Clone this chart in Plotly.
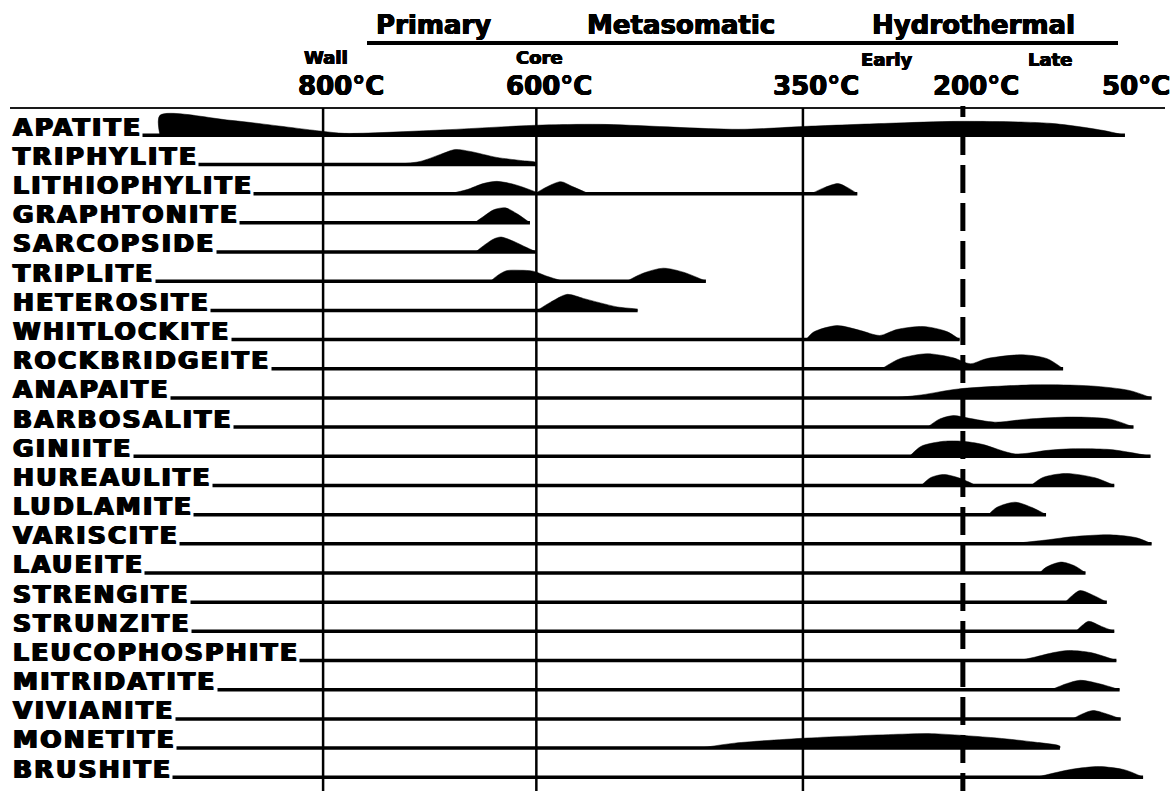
import plotly.graph_objects as go

# ---------------------------------------------------------------------------
# Paragenetic sequence of pegmatite phosphates
# ---------------------------------------------------------------------------
minerals = [
    "APATITE", "TRIPHYLITE", "LITHIOPHYLITE", "GRAPHTONITE", "SARCOPSIDE",
    "TRIPLITE", "HETEROSITE", "WHITLOCKITE", "ROCKBRIDGEITE", "ANAPAITE",
    "BARBOSALITE", "GINIITE", "HUREAULITE", "LUDLAMITE", "VARISCITE",
    "LAUEITE", "STRENGITE", "STRUNZITE", "LEUCOPHOSPHITE", "MITRIDATITE",
    "VIVIANITE", "MONETITE", "BRUSHITE",
]

# Growth pulses of every mineral: (temperature in °C, relative abundance)
apatite = [([953, 953, 887, 801, 780, 690, 600, 540, 410, 346, 270, 203, 118, 69, 48],
            [0, 1.33, 1.0, 0.27, 0.13, 0.35, 0.67, 0.73, 0.4, 0.6, 0.8, 0.93, 0.8, 0.33, 0])]
triphylite = [([733, 709, 690, 676, 662, 637, 615, 600, 600],
               [0, 0.2, 0.67, 1.0, 0.87, 0.47, 0.27, 0.13, 0])]
lithiophylite = [([681, 665, 650, 637, 620, 600], [0, 0.27, 0.67, 0.82, 0.6, 0.1]),
                 ([599, 588, 577, 566, 551], [0.1, 0.53, 0.8, 0.47, 0]),
                 ([342, 330, 317, 308, 299], [0, 0.4, 0.67, 0.4, 0])]
graphtonite = [([658, 650, 640, 629, 618, 606], [0, 0.4, 0.87, 1.0, 0.6, 0])]
sarcopside = [([657, 648, 640, 633, 620, 610, 600], [0, 0.5, 0.87, 1.0, 0.67, 0.33, 0])]
triplite = [([643, 636, 628, 615, 603, 590, 575], [0, 0.4, 0.7, 0.73, 0.67, 0.33, 0]),
            ([515, 500, 481, 462, 441], [0, 0.53, 0.87, 0.6, 0])]
heterosite = [([599, 587, 571, 556, 540, 524, 506, 505],
               [0, 0.53, 1.07, 0.8, 0.5, 0.23, 0.07, 0])]
whitlockite = [([347, 340, 318, 296, 278, 262, 237, 215, 203],
                [0, 0.5, 0.93, 0.6, 0.27, 0.67, 0.87, 0.53, 0])]
rockbridgeite = [([276, 259, 234, 209, 193, 178, 144, 121, 106],
                  [0, 0.67, 1.0, 0.73, 0.33, 0.67, 0.93, 0.67, 0])]
anapaite = [([265, 239, 204, 133, 80, 44, 23], [0, 0.2, 0.6, 0.87, 0.8, 0.5, 0])]
barbosalite = [([233, 222, 209, 195, 170, 140, 98, 62, 40],
                [0, 0.53, 0.77, 0.6, 0.33, 0.53, 0.67, 0.53, 0])]
giniite = [([250, 239, 218, 200, 182, 151, 120, 98, 62, 37, 24],
            [0, 0.67, 1.0, 1.0, 0.8, 0.16, 0.4, 0.5, 0.45, 0.18, 0])]
hureaulite = [([239, 230, 218, 204, 190, 189], [0, 0.53, 0.73, 0.51, 0.07, 0]),
              ([136, 125, 104, 76, 58], [0, 0.53, 0.8, 0.51, 0])]
ludlamite = [([176, 168, 151, 135, 122], [0, 0.49, 0.83, 0.47, 0])]
variscite = [([155, 120, 98, 62, 37, 23], [0, 0.27, 0.47, 0.6, 0.4, 0])]
laueite = [([128, 122, 108, 95, 85], [0, 0.38, 0.73, 0.47, 0])]
strengite = [([104, 97, 90, 78, 65], [0, 0.47, 0.78, 0.47, 0])]
strunzite = [([94, 88, 82, 70, 58], [0, 0.4, 0.67, 0.33, 0])]
leucophosphite = [([147, 133, 115, 101, 80, 56], [0, 0.22, 0.53, 0.67, 0.53, 0])]
mitridatite = [([117, 103, 90, 72, 53], [0, 0.4, 0.63, 0.4, 0])]
vivianite = [([97, 88, 78, 65, 52], [0, 0.33, 0.56, 0.33, 0])]
monetite = [([446, 414, 346, 257, 229, 168, 133, 109, 109],
             [0, 0.33, 0.67, 0.93, 0.96, 0.67, 0.4, 0.13, 0])]
brushite = [([131, 98, 72, 48, 31], [0, 0.53, 0.71, 0.49, 0])]

pulses = [apatite, triphylite, lithiophylite, graphtonite, sarcopside, triplite,
          heterosite, whitlockite, rockbridgeite, anapaite, barbosalite, giniite,
          hureaulite, ludlamite, variscite, laueite, strengite, strunzite,
          leucophosphite, mitridatite, vivianite, monetite, brushite]

# Temperature scale
temps = [800, 600, 350, 200, 50]
temp_labels = ["800°C", "600°C", "350°C", "200°C", "50°C"]
zone_labels = {800: "Wall", 600: "Core"}
solid_temps = [800, 600, 350]
dashed_temp = 200

stages = ["Primary", "Metasomatic", "Hydrothermal"]
stage_centres = [696, 464, 190]
substages = ["Early", "Late"]
substage_centres = [272, 118]

# ---------------------------------------------------------------------------
# Layout geometry
# ---------------------------------------------------------------------------
W, H = 1174, 791
T_LEFT, T_RIGHT = 1103, 2
ROW0_PX, ROW_PITCH = 135.3, 29.18
Y_TOP = -ROW0_PX / ROW_PITCH
Y_BOT = (H - ROW0_PX) / ROW_PITCH
PEAK = 15 / ROW_PITCH            # row height of one abundance unit
LINE_START_T = 1090
FONT = "DejaVu Sans"


def heavy(d):
    """text-shadow that thickens the glyph strokes"""
    return f"{d}px 0 0 black, -{d}px 0 0 black, 0 0.4px 0 black, 0 -0.3px 0 black"


def py(px):
    """pixel row -> paper y"""
    return 1 - px / H


def font(size, d=0.6):
    return dict(family=FONT, size=size, color="black", weight="bold", shadow=heavy(d))


fig = go.Figure()

for i, (name, plist) in enumerate(zip(minerals, pulses)):
    end_t = min(min(t) for t, _ in plist)
    fig.add_trace(go.Scatter(
        x=[LINE_START_T, end_t], y=[i, i], mode="lines",
        line=dict(color="black", width=3.5), hoverinfo="skip"))
    for t, h in plist:
        fig.add_trace(go.Scatter(
            x=t, y=[i - v * PEAK for v in h], mode="lines",
            line=dict(color="black", width=0.5, shape="spline", smoothing=0.8),
            fill="toself", fillcolor="black", hoverinfo="skip"))

shapes = []
# top rule and stage underline
shapes.append(dict(type="line", xref="paper", yref="paper",
                   x0=10 / W, x1=1165 / W, y0=py(108), y1=py(108),
                   line=dict(color="#1a1a1a", width=2)))
shapes.append(dict(type="line", xref="paper", yref="paper",
                   x0=367 / W, x1=1118 / W, y0=py(43), y1=py(43),
                   line=dict(color="black", width=4)))
# temperature boundaries
for t in solid_temps:
    shapes.append(dict(type="line", xref="x", yref="paper", x0=t, x1=t,
                       y0=py(108), y1=0, line=dict(color="black", width=2.5)))
shapes.append(dict(type="line", xref="x", yref="paper", x0=dashed_temp, x1=dashed_temp,
                   y0=py(106), y1=py(117), line=dict(color="black", width=5)))
shapes.append(dict(type="line", xref="x", yref="paper", x0=dashed_temp, x1=dashed_temp,
                   y0=py(127), y1=0, line=dict(color="black", width=5, dash="28px,10px")))

ann = []
for i, name in enumerate(minerals):
    ann.append(dict(text=f'<span style="letter-spacing:2.3px">{name}</span>',
                    x=12 / W, xref="paper", xanchor="left",
                    y=i, yref="y", yanchor="bottom", yshift=-7.4,
                    showarrow=False, bgcolor="white", borderpad=0,
                    font=font(25, 1.0)))
for t, lab in zip(temps, temp_labels):
    ann.append(dict(text=lab, x=t, xref="x", xanchor="center",
                    xshift=18 if t == 800 else 13,
                    y=py(86), yref="paper", yanchor="middle", showarrow=False,
                    font=font(26)))
for t, lab in zone_labels.items():
    ann.append(dict(text=lab, x=t, xref="x", xanchor="center", xshift=3,
                    y=py(58), yref="paper", yanchor="middle", showarrow=False,
                    font=font(18)))
for t, lab in zip(substage_centres, substages):
    ann.append(dict(text=lab, x=t, xref="x", xanchor="center",
                    y=py(60), yref="paper", yanchor="middle", showarrow=False,
                    font=font(18)))
for t, lab in zip(stage_centres, stages):
    ann.append(dict(text=lab, x=t, xref="x", xanchor="center",
                    y=py(25), yref="paper", yanchor="middle", showarrow=False,
                    font=font(26)))

fig.update_layout(
    width=W, height=H, margin=dict(l=0, r=0, t=0, b=0),
    paper_bgcolor="white", plot_bgcolor="white", showlegend=False,
    xaxis=dict(range=[T_LEFT, T_RIGHT], visible=False, fixedrange=True),
    yaxis=dict(range=[Y_BOT, Y_TOP], visible=False, fixedrange=True),
    shapes=shapes, annotations=ann,
)

fig.write_html("out.html", config={"displayModeBar": False})
